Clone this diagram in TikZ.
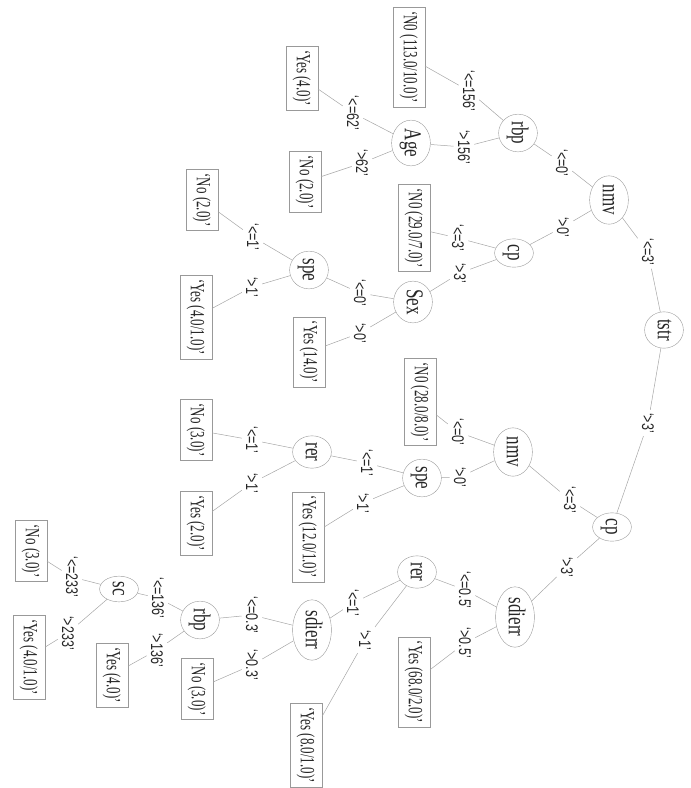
\documentclass[tikz,border=0pt]{standalone}
\usepackage{fontspec}
\setmainfont{Liberation Serif}
\setsansfont{Liberation Sans}
\usetikzlibrary{shapes.geometric}

\begin{document}
\begin{tikzpicture}[x=1pt,y=-1pt,
  every node/.style={rotate=-90,text=black!85},
  split/.style={ellipse,draw=black!40,inner sep=2pt,yscale=1.42,
    font=\fontsize{17}{18}\selectfont,text height=12pt,text depth=3.3pt},
  leaf/.style={draw=black!40,inner xsep=4pt,inner ysep=4pt,yscale=1.55,
    font=\fontsize{13}{14}\selectfont,text height=9.4pt,text depth=2.9pt},
  cond/.style={inner sep=3pt,yscale=1.35,font=\sffamily\fontsize{12.5}{13}\selectfont},
  edge/.style={draw=black!35,line width=.5pt}]
\useasboundingbox (0,0) rectangle (691,788);
% tests
\node[split] (root) at (664,330) {tstr};
\node[split] (nmvA) at (609,200) {nmv};
\node[split] (rbpA) at (518,133) {rbp};
\node[split] (age) at (411,143) {Age};
\node[split] (cpA) at (514,253) {cp};
\node[split] (sex) at (413,302) {Sex};
\node[split] (speA) at (309,270) {spe};
\node[split] (cpB) at (612,527) {cp};
\node[split] (nmvB) at (513,452) {nmv};
\node[split] (speB) at (422,478) {spe};
\node[split] (rerA) at (312,452) {rer};
\node[split] (sdierrA) at (515,617) {sdierr};
\node[split] (rerB) at (417,572) {rer};
\node[split] (sdierrB) at (312,630) {sdierr};
\node[split] (rbpB) at (200,620) {rbp};
\node[split] (sc) at (119,589) {sc};
% leaves
\node[leaf] (lA) at (409,57) {‘N0 (113.0/10.0)’};
\node[leaf] (lB) at (302,78) {‘Yes (4.0)’};
\node[leaf] (lC) at (305,182) {‘No (2.0)’};
\node[leaf] (lD) at (414,228) {‘N0 (29.0/7.0)’};
\node[leaf] (lE) at (202,200) {‘No (2.0)’};
\node[leaf] (lF) at (196,317) {‘Yes (4.0/1.0)’};
\node[leaf] (lG) at (309,352) {‘Yes (14.0)’};
\node[leaf] (lH) at (420,402) {‘N0 (28.0/8.0)’};
\node[leaf] (lI) at (196,430) {‘No (3.0)’};
\node[leaf] (lJ) at (196,523) {‘Yes (2.0)’};
\node[leaf] (lK) at (308,537) {‘Yes (12.0/1.0)’};
\node[leaf] (lL) at (414,682) {‘Yes (68.0/2.0)’};
\node[leaf] (lM) at (306,745) {‘Yes (8.0/1.0)’};
\node[leaf] (lN) at (197,689) {‘No (3.0)’};
\node[leaf] (lO) at (31,551) {‘No (3.0)’};
\node[leaf] (lP) at (29,657) {‘Yes (4.0/1.0)’};
\node[leaf] (lQ) at (112,675) {‘Yes (4.0)’};
% branch labels
\node[cond] (c1) at (648,252) {‘<=3’};
\node[cond] (c2) at (648,423) {‘>3’};
\node[cond] (c3) at (562,163) {‘<=0’};
\node[cond] (c4) at (563,227) {‘>0’};
\node[cond] (c5) at (469,91) {‘<=156’};
\node[cond] (c6) at (464,147) {‘>156’};
\node[cond] (c7) at (353,113) {‘<=62’};
\node[cond] (c8) at (362,163) {‘>62’};
\node[cond] (c9) at (458,238) {‘<=3’};
\node[cond] (c10) at (460,273) {‘>3’};
\node[cond] (c11) at (360,293) {‘<=0’};
\node[cond] (c12) at (360,333) {‘>0’};
\node[cond] (c13) at (253,237) {‘<=1’};
\node[cond] (c14) at (252,287) {‘>1’};
\node[cond] (c15) at (570,500) {‘<=3’};
\node[cond] (c16) at (567,567) {‘>3’};
\node[cond] (c17) at (458,432) {‘<=0’};
\node[cond] (c18) at (460,477) {‘>0’};
\node[cond] (c19) at (367,463) {‘<=1’};
\node[cond] (c20) at (363,503) {‘>1’};
\node[cond] (c21) at (252,440) {‘<=1’};
\node[cond] (c22) at (252,483) {‘>1’};
\node[cond] (c23) at (465,590) {‘<=0.5’};
\node[cond] (c24) at (465,643) {‘>0.5’};
\node[cond] (c25) at (353,603) {‘<=1’};
\node[cond] (c26) at (365,640) {‘>1’};
\node[cond] (c27) at (252,615) {‘<=0.3’};
\node[cond] (c28) at (252,665) {‘>0.3’};
\node[cond] (c29) at (158,598) {‘<=136’};
\node[cond] (c30) at (157,650) {‘>136’};
\node[cond] (c31) at (72,577) {‘<=233’};
\node[cond] (c32) at (68,633) {‘>233’};
% edges
\draw[edge] (root) -- (c1) -- (nmvA);
\draw[edge] (root) -- (c2) -- (cpB);
\draw[edge] (nmvA) -- (c3) -- (rbpA);
\draw[edge] (nmvA) -- (c4) -- (cpA);
\draw[edge] (rbpA) -- (c5) -- (lA);
\draw[edge] (rbpA) -- (c6) -- (age);
\draw[edge] (age) -- (c7) -- (lB);
\draw[edge] (age) -- (c8) -- (lC);
\draw[edge] (cpA) -- (c9) -- (lD);
\draw[edge] (cpA) -- (c10) -- (sex);
\draw[edge] (sex) -- (c11) -- (speA);
\draw[edge] (sex) -- (c12) -- (lG);
\draw[edge] (speA) -- (c13) -- (lE);
\draw[edge] (speA) -- (c14) -- (lF);
\draw[edge] (cpB) -- (c15) -- (nmvB);
\draw[edge] (cpB) -- (c16) -- (sdierrA);
\draw[edge] (nmvB) -- (c17) -- (lH);
\draw[edge] (nmvB) -- (c18) -- (speB);
\draw[edge] (speB) -- (c19) -- (rerA);
\draw[edge] (speB) -- (c20) -- (lK);
\draw[edge] (rerA) -- (c21) -- (lI);
\draw[edge] (rerA) -- (c22) -- (lJ);
\draw[edge] (sdierrA) -- (c23) -- (rerB);
\draw[edge] (sdierrA) -- (c24) -- (lL);
\draw[edge] (rerB) -- (c25) -- (sdierrB);
\draw[edge] (rerB) -- (c26) -- (lM);
\draw[edge] (sdierrB) -- (c27) -- (rbpB);
\draw[edge] (sdierrB) -- (c28) -- (lN);
\draw[edge] (rbpB) -- (c29) -- (sc);
\draw[edge] (rbpB) -- (c30) -- (lQ);
\draw[edge] (sc) -- (c31) -- (lO);
\draw[edge] (sc) -- (c32) -- (lP);
\end{tikzpicture}
\end{document}
